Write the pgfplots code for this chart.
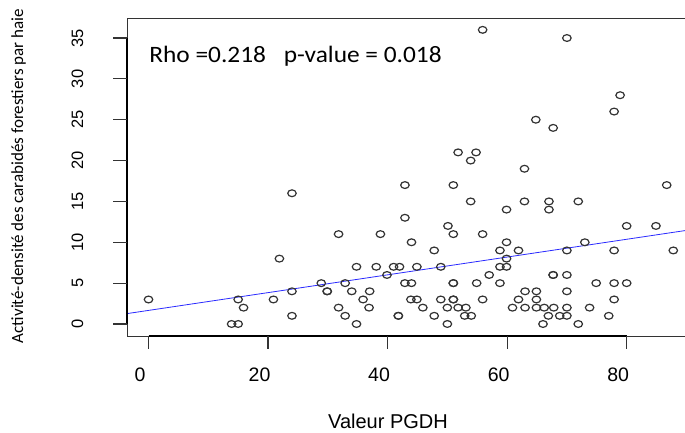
\documentclass[border=0pt]{standalone}
\usepackage{pgfplots}
\pgfplotsset{compat=1.18}
\usepackage{fontspec}
\setmainfont{Liberation Sans}
\newfontfamily\calibri{Carlito}
\definecolor{ptcol}{HTML}{333333}
\definecolor{regblue}{HTML}{2A2AFF}
\pgfplotstableread{
x y
13.9 0
15.0 0
34.8 0
50.0 0
66.0 0
71.9 0
24.0 1
32.9 1
41.8 1
41.8 1
47.8 1
52.9 1
54.0 1
66.9 1
68.8 1
70.0 1
77.0 1
15.9 2
31.8 2
36.9 2
45.9 2
50.0 2
51.8 2
53.1 2
60.9 2
63.0 2
64.9 2
66.2 2
67.8 2
70.0 2
73.8 2
0.0 3
15.0 3
20.9 3
35.9 3
43.9 3
44.9 3
48.9 3
51.0 3
51.0 3
55.9 3
61.9 3
64.9 3
77.9 3
24.0 4
29.9 4
29.9 4
34.0 4
37.0 4
63.0 4
64.9 4
70.0 4
28.9 5
32.9 5
42.9 5
44.0 5
51.0 5
51.0 5
54.9 5
58.8 5
74.9 5
77.9 5
80.0 5
39.9 6
57.0 6
67.7 6
67.7 6
70.0 6
34.8 7
38.1 7
41.0 7
42.0 7
44.9 7
48.9 7
58.8 7
59.9 7
21.9 8
59.9 8
47.8 9
58.8 9
61.9 9
70.0 9
77.9 9
87.8 9
44.0 10
59.9 10
73.0 10
31.8 11
38.8 11
51.0 11
55.9 11
50.1 12
80.0 12
84.9 12
42.9 13
59.9 14
67.0 14
53.9 15
62.9 15
67.0 15
71.9 15
24.0 16
42.9 17
51.0 17
86.7 17
62.9 19
53.9 20
51.8 21
54.8 21
67.7 24
64.8 25
77.9 26
78.9 28
70.0 35
55.9 36
}\pgdhdata
\begin{document}
\begin{tikzpicture}
\begin{axis}[
  name=ax,
  scale only axis,
  width=558pt, height=318pt,
  xmin=-3.6, xmax=89.76,
  ymin=-1.47, ymax=37.45,
  axis line style={draw=none},
  xtick pos=left, ytick pos=left,
  xtick={0,20,40,60,80},
  ytick={0,5,10,15,20,25,30,35},
  tick align=outside,
  major tick length=12.5pt,
  every tick/.style={draw=none},
  /pgf/number format/assume math mode=true,
  xticklabel style={font=\fontsize{19.5}{22}\selectfont, inner sep=0pt, anchor=north, xshift=-8.5pt},
  xticklabel shift=19.5pt,
  yticklabel style={font=\fontsize{16.5}{19}\selectfont, inner sep=0pt, rotate=90, anchor=south},
  yticklabel shift=31pt,
  clip=false,
]
\addplot[only marks, mark=o, mark size=3.4pt, draw=ptcol,
  mark options={xscale=1.25, line width=1.2pt, draw=ptcol}] table[x=x, y=y] {\pgdhdata};
\addplot[regblue, line width=0.8pt, no marks] coordinates {(-3.6,1.27) (89.76,11.43)};
\end{axis}
% frame (left, top, bottom; the right side is cut off in the reference)
\draw[black!80, line width=0.9pt] (ax.north east) -- (ax.north west) -- (ax.south west) -- (ax.south east);
% R axis lines over the frame
\draw[black, line width=1.3pt] ([yshift=12pt]ax.south west) -- ([yshift=298pt]ax.south west);
\draw[black, line width=1.3pt] ([xshift=21.5pt]ax.south west) -- ([xshift=499.7pt]ax.south west);
% x ticks at 0,20,40,60,80
\foreach \xx in {21.5,141.04,260.58,380.12,499.66}
  \draw[black!80, line width=1.1pt] ([xshift=\xx pt]ax.south west) -- ([xshift=\xx pt, yshift=-13pt]ax.south west);
% y ticks at 0,5,...,35
\foreach \yy in {12.01,52.87,93.72,134.58,175.43,216.29,257.14,298.00}
  \draw[black!80, line width=1.1pt] ([yshift=\yy pt]ax.south west) -- ([yshift=\yy pt, xshift=-14pt]ax.south west);
\node[anchor=base west, font=\calibri\fontsize{23.5}{28}\selectfont, xscale=1.08] at ([xshift=18.5pt, yshift=-45pt]ax.north west) {Rho =0.218};
\node[anchor=base west, font=\calibri\fontsize{23.5}{28}\selectfont, xscale=1.08] at ([xshift=153pt, yshift=-45pt]ax.north west) {p-value = 0.018};
\node[rotate=90, font=\calibri\fontsize{17}{20}\selectfont] at ([xshift=-108.5pt, yshift=1pt]ax.west) {Activité-densité des carabidés forestiers par haie};
\node[anchor=base, font=\fontsize{20}{24}\selectfont] at ([xshift=-18pt, yshift=-93pt]ax.south) {Valeur PGDH};
\pgfresetboundingbox
\path ([xshift=-127pt, yshift=-97pt]ax.south west) rectangle ([yshift=18pt]ax.north east);
\end{tikzpicture}
\end{document}
